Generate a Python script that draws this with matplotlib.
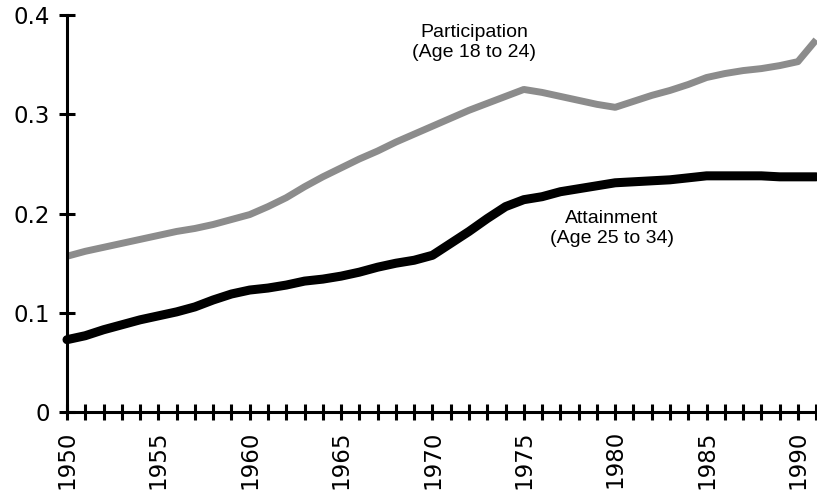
import numpy as np
import matplotlib
matplotlib.use("Agg")
import matplotlib.pyplot as plt

# years 1950..1991
years = list(range(1950, 1992))

# college attainment, age 25 to 34
attainment = [0.073, 0.077, 0.083, 0.088, 0.093, 0.097, 0.101, 0.106, 0.113, 0.119,
              0.123, 0.125, 0.128, 0.132, 0.134, 0.137, 0.141, 0.146, 0.150, 0.153,
              0.158, 0.170, 0.182, 0.195, 0.207, 0.214, 0.217, 0.222, 0.225, 0.228,
              0.231, 0.232, 0.233, 0.234, 0.236, 0.238, 0.238, 0.238, 0.238, 0.237,
              0.237, 0.237]

# college participation, age 18 to 24
participation = [0.157, 0.162, 0.166, 0.170, 0.174, 0.178, 0.182, 0.185, 0.189, 0.194,
                 0.199, 0.207, 0.216, 0.227, 0.237, 0.246, 0.255, 0.263, 0.272, 0.280,
                 0.288, 0.296, 0.304, 0.311, 0.318, 0.325, 0.322, 0.318, 0.314, 0.310,
                 0.307, 0.313, 0.319, 0.324, 0.330, 0.337, 0.341, 0.344, 0.346, 0.349,
                 0.353, 0.375]

y_ticks = [0, 0.1, 0.2, 0.3, 0.4]
y_labels = ["0", "0.1", "0.2", "0.3", "0.4"]
x_labels = [1950, 1955, 1960, 1965, 1970, 1975, 1980, 1985, 1990]

fig = plt.figure(figsize=(8.17, 4.99), dpi=100)
ax = fig.add_axes([0.082, 0.174, 0.917, 0.796])

ax.plot(years, participation, color="0.55", lw=5, solid_capstyle="butt", clip_on=False)
ax.plot(years, attainment, color="black", lw=6.5, solid_capstyle="round", clip_on=False)

ax.set_xlim(1950, 1991)
ax.set_ylim(0, 0.4)

for s in ["top", "right"]:
    ax.spines[s].set_visible(False)
for s in ["left", "bottom"]:
    ax.spines[s].set_linewidth(2.2)

ax.set_yticks(y_ticks)
ax.set_yticklabels(y_labels, fontsize=16.5, family="DejaVu Sans")
ax.set_xticks(years, minor=False)
ax.set_xticklabels([str(y) if y in x_labels else "" for y in years],
                   rotation=90, fontsize=16.5, family="DejaVu Sans")
ax.tick_params(axis="y", direction="inout", length=11, width=2.2, pad=7)
ax.tick_params(axis="x", direction="inout", length=12, width=2.2, pad=7)

ax.text(1972.3, 0.372, "Participation\n(Age 18 to 24)", ha="center", va="center",
        fontsize=14, family="Liberation Sans", linespacing=1.2)
ax.text(1979.8, 0.185, "Attainment\n(Age 25 to 34)", ha="center", va="center",
        fontsize=14, family="Liberation Sans", linespacing=1.2)

fig.savefig("out.png", dpi=100)
